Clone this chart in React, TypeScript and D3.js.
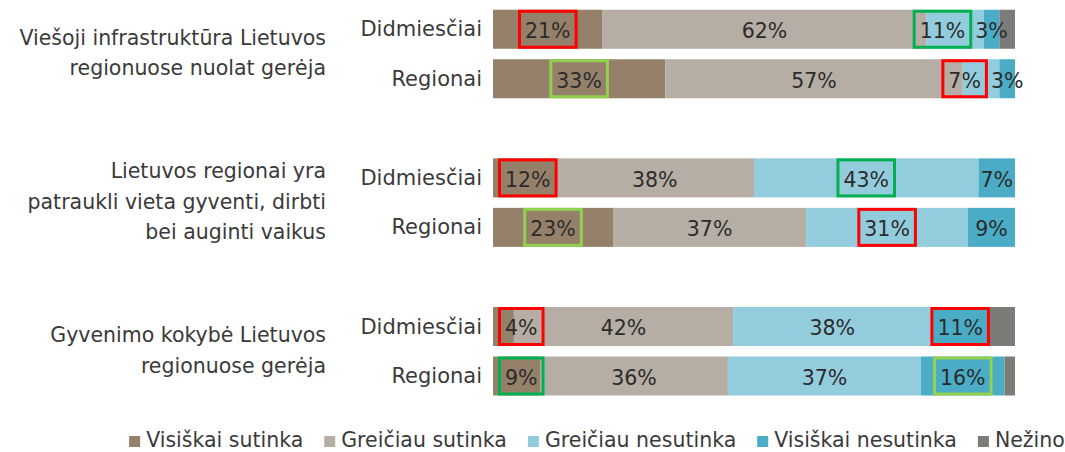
import React, { useEffect, useRef } from "react";
import * as d3 from "d3";

// ---- data ----
const groupLines: string[][] = [
  ["Viešoji infrastruktūra Lietuvos", "regionuose nuolat gerėja"],
  ["Lietuvos regionai yra", "patraukli vieta gyventi, dirbti", "bei auginti vaikus"],
  ["Gyvenimo kokybė Lietuvos", "regionuose gerėja"],
];
const segments = ["Didmiesčiai", "Regionai"];
const seriesNames = [
  "Visiškai sutinka",
  "Greičiau sutinka",
  "Greičiau nesutinka",
  "Visiškai nesutinka",
  "Nežino",
];
// row order: G1 Didmiesčiai, G1 Regionai, G2 Didmiesčiai, G2 Regionai, G3 Didmiesčiai, G3 Regionai
const visiskaiSutinka = [21, 33, 12, 23, 4, 9];
const greiciauSutinka = [62, 57, 38, 37, 42, 36];
const greiciauNesutinka = [11, 7, 43, 31, 38, 37];
const visiskaiNesutinka = [3, 3, 7, 9, 11, 16];
const nezino = [3, 0, 0, 0, 5, 2];
const labelledSeries = [0, 1, 2, 3];
// highlight boxes drawn around labels: [row, series, colour key]
const highlights: [number, number, string][] = [
  [0, 0, "red"], [0, 2, "green"],
  [1, 0, "lime"], [1, 2, "red"],
  [2, 0, "red"], [2, 2, "green"],
  [3, 0, "lime"], [3, 2, "red"],
  [4, 0, "red"], [4, 3, "red"],
  [5, 0, "green"], [5, 3, "lime"],
];

const colors = ["#958169", "#B6AEA4", "#93CDDD", "#4BACC6", "#7B7B78"];
const boxColors: Record<string, string> = { red: "#FF0000", green: "#00B050", lime: "#92D050" };

const W = 1065;
const H = 452;
const FONT = "'DejaVu Sans', sans-serif";

export default function App() {
  const ref = useRef<SVGSVGElement | null>(null);

  useEffect(() => {
    const svg = d3.select(ref.current);
    svg.selectAll("*").remove();

    const seriesValues = [visiskaiSutinka, greiciauSutinka, greiciauNesutinka, visiskaiNesutinka, nezino];
    const rows = visiskaiSutinka.map((_, i) => {
      const r: any = { idx: i, group: Math.floor(i / 2), seg: segments[i % 2] };
      seriesNames.forEach((s, k) => (r[s] = seriesValues[k][i]));
      return r;
    });
    const stacked = d3.stack<any>().keys(seriesNames)(rows);

    const x = d3.scaleLinear().domain([0, 100]).range([493, 1015]);
    const gy = d3.scalePoint<number>().domain([0, 1, 2]).range([54, 351.25]);
    const inner = d3.scaleBand<string>().domain(segments).range([-44.25, 44.25]).paddingInner(0.212);
    const bw = inner.bandwidth();
    const rowTop = (r: any) => (gy(r.group) as number) + (inner(r.seg) as number);

    // bars
    const layers = svg.append("g").selectAll("g").data(stacked).join("g")
      .attr("fill", (_d, i) => colors[i]);
    layers.selectAll("rect").data((d) => d).join("rect")
      .attr("x", (d) => x(d[0]))
      .attr("width", (d) => Math.max(0, x(d[1]) - x(d[0])))
      .attr("y", (d: any) => rowTop(d.data))
      .attr("height", bw);

    // category labels
    svg.append("g").selectAll("text").data(rows).join("text")
      .attr("x", 482)
      .attr("y", (r) => rowTop(r) + bw / 2 + 7)
      .attr("text-anchor", "end")
      .attr("font-family", FONT)
      .attr("font-size", 21)
      .attr("fill", "#3A3A3A")
      .text((r) => r.seg);

    // group labels
    groupLines.forEach((lines, g) => {
      const cy = gy(g) as number;
      svg.append("g").selectAll("text").data(lines).join("text")
        .attr("x", 326)
        .attr("y", (_l, i) => cy + (i - (lines.length - 1) / 2) * 30.5 + 6)
        .attr("text-anchor", "end")
        .attr("font-family", FONT)
        .attr("font-size", 20.5)
        .attr("fill", "#3A3A3A")
        .text((l) => l);
    });

    // value labels with layout
    const labelG = svg.append("g");
    const boxG = svg.append("g");
    rows.forEach((r, ri) => {
      const items: any[] = [];
      labelledSeries.forEach((k) => {
        const v = seriesValues[k][ri];
        if (!v) return;
        const seg = stacked[k][ri];
        const t = labelG.append("text")
          .attr("font-family", FONT)
          .attr("font-size", 20.5)
          .attr("fill", "#2B2B2B")
          .attr("text-anchor", "middle")
          .attr("y", rowTop(r) + bw / 2 + 8.8)
          .text(`${v}%`);
        const tw = (t.node() as SVGTextElement).getComputedTextLength();
        const hl = highlights.find((h) => h[0] === ri && h[1] === k);
        items.push({ t, tw, hl, cx: (x(seg[0]) + x(seg[1])) / 2, hw: tw / 2 + (hl ? 7 : 1) });
      });
      if (items.length) {
        items[0].cx = Math.max(items[0].cx, x(0) + 5 + items[0].hw);
        for (let i = items.length - 2; i >= 0; i--) {
          const nxt = items[i + 1];
          items[i].cx = Math.min(items[i].cx, nxt.cx - nxt.hw - items[i].hw - 2);
        }
      }
      items.forEach((it) => {
        it.t.attr("x", it.cx);
        if (it.hl) {
          boxG.append("rect")
            .attr("x", it.cx - it.hw + 1.5)
            .attr("y", rowTop(r) + 1.5)
            .attr("width", it.hw * 2 - 3)
            .attr("height", bw - 3)
            .attr("fill", "none")
            .attr("stroke", boxColors[it.hl[2]])
            .attr("stroke-width", 3);
        }
      });
    });

    // legend
    const leg = svg.append("g");
    const items = seriesNames.map((s, i) => {
      const g = leg.append("g");
      g.append("rect").attr("width", 11).attr("height", 11).attr("y", 436).attr("fill", colors[i]);
      const t = g.append("text")
        .attr("x", 17)
        .attr("y", 447)
        .attr("font-family", FONT)
        .attr("font-size", 20.5)
        .attr("fill", "#3A3A3A")
        .text(s);
      const tw = (t.node() as SVGTextElement).getComputedTextLength();
      return { g, w: 17 + tw };
    });
    const gap = 21;
    const total = d3.sum(items, (d) => d.w) + gap * (items.length - 1);
    let cur = 597 - total / 2;
    items.forEach((it) => {
      it.g.attr("transform", `translate(${cur},0)`);
      cur += it.w + gap;
    });
  }, []);

  return (
    <svg
      ref={ref}
      width={W}
      height={H}
      style={{ position: "absolute", left: 0, top: 0, background: "#fff" }}
    />
  );
}
